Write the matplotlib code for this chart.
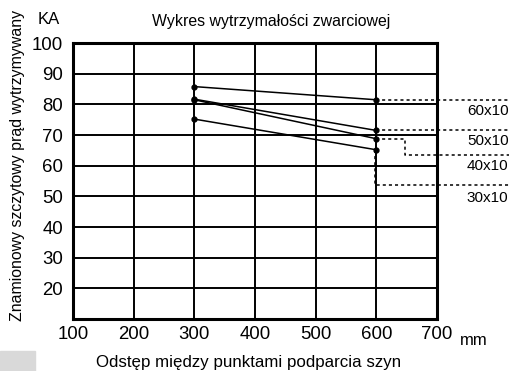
import matplotlib.pyplot as plt
import matplotlib.patches as mpatches

plt.rcParams['font.family'] = ['Liberation Sans', 'DejaVu Sans']

# spacing between busbar supports (mm) and short-circuit strength (kA)
spacing = [300, 600]
sizes = ['60x10', '50x10', '40x10', '30x10']
strength = {
    '60x10': [85.8, 81.5],
    '50x10': [81.7, 71.5],
    '40x10': [81.5, 68.8],
    '30x10': [75.2, 65.2],
}
x_ticks = [100, 200, 300, 400, 500, 600, 700]
y_ticks = [20, 30, 40, 50, 60, 70, 80, 90, 100]

# leader lines from the 600 mm points out to the size labels
x_end = 820
leaders = {
    '60x10': ([600, x_end], [81.5, 81.5]),
    '50x10': ([600, x_end], [71.5, 71.5]),
    '40x10': ([600, 647, 647, x_end], [68.8, 68.8, 63.6, 63.6]),
    '30x10': ([598, 598, x_end], [65.2, 53.7, 53.7]),
}
label_y = {'60x10': 77.8, '50x10': 68.0, '40x10': 59.8, '30x10': 49.6}

fig = plt.figure(figsize=(5.09, 3.71), dpi=100)
ax = fig.add_axes([0.1434, 0.140, 0.715, 0.744])
ax.set_xlim(100, 700)
ax.set_ylim(10, 100)
ax.set_xticks(x_ticks)
ax.set_yticks(y_ticks)
ax.tick_params(length=0, labelsize=13.4)
ax.tick_params(axis='x', pad=5)
ax.tick_params(axis='y', pad=7)
ax.grid(True, color='black', linewidth=1.4)
for s in ax.spines.values():
    s.set_linewidth(2.2)
ax.set_axisbelow(True)

for name in sizes:
    ax.plot(spacing, strength[name], color='black', linewidth=1.1,
            marker='o', markersize=3.5, zorder=4)
    lx, ly = leaders[name]
    ax.plot(lx, ly, color='black', linewidth=1.1, linestyle=(0, (2, 2)),
            clip_on=False, zorder=3)
    ax.text(x_end - 2, label_y[name], name, ha='right', va='center',
            fontsize=11, clip_on=False)

fig.text(0.532, 0.942, 'Wykres wytrzymałości zwarciowej', ha='center',
         va='center', fontsize=11.4)
fig.text(0.095, 0.948, 'KA', ha='center', va='center', fontsize=12)
fig.text(0.931, 0.083, 'mm', ha='center', va='center', fontsize=12)
fig.text(0.489, 0.024, 'Odstęp między punktami podparcia szyn', ha='center',
         va='center', fontsize=12.2)
fig.text(0.035, 0.553, 'Znamionowy szczytowy prąd wytrzymywany',
         rotation=90, ha='center', va='center', fontsize=11.4)

fig.patches.append(mpatches.Rectangle((0, 0), 0.069, 0.055,
                                      transform=fig.transFigure,
                                      color='#d9d9d9', zorder=0))

fig.savefig('out.png', dpi=100)
